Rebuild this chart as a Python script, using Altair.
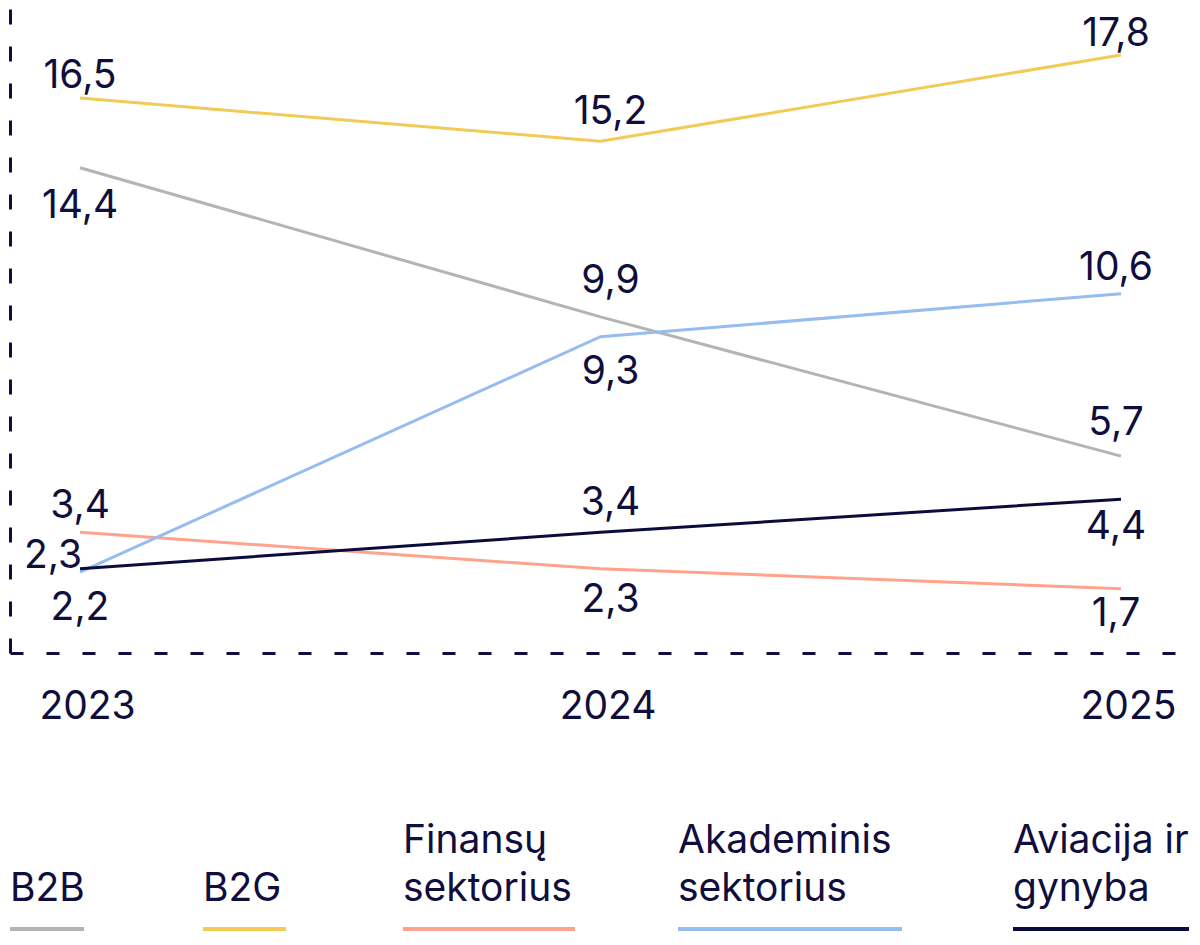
import altair as alt
import pandas as pd

# ---------------- data ----------------
YEARS = ["2023", "2024", "2025"]
SERIES = ["B2B", "B2G", "Finansų sektorius", "Akademinis sektorius", "Aviacija ir gynyba"]
B2B = [14.4, 9.9, 5.7]
B2G = [16.5, 15.2, 17.8]
FINANSU = [3.4, 2.3, 1.7]
AKADEMINIS = [2.2, 9.3, 10.6]
AVIACIJA = [2.3, 3.4, 4.4]
LEGEND_LABELS = ["B2B", "B2G", "Finansų\nsektorius", "Akademinis\nsektorius", "Aviacija ir\ngynyba"]

# ---------------- style / layout ----------------
COLORS = ["#b4b4b4", "#f2cb57", "#ffa28c", "#96bcf0", "#0c0c3c"]
INK = "#0f0e3c"
FONT = "Inter"
FS = 39
W, H = 1181, 645

# label placement per series: (align, dx, dy) for 2023, 2024, 2025
LABEL_LAYOUT = {
    "B2B": [("center", 0, 50), ("center", 10, -24), ("center", -5, -21)],
    "B2G": [("center", 0, -10), ("center", 10, -17), ("center", -5, -9)],
    "Finansų sektorius": [("center", 0, -14), ("center", 10, 43), ("center", -5, 37)],
    "Akademinis sektorius": [("center", 0, 48), ("center", 10, 47), ("center", -5, -14)],
    "Aviacija ir gynyba": [("right", 2, -1), ("center", 10, -17), ("center", -5, 40)],
}
LEGEND_X = [(0, 74), (193, 276), (393, 565), (668, 892), (1003, 1179)]
LEGEND_RULE_Y = 921
LEGEND_LAST_BASELINE = 893
LEGEND_LINE_H = 48

values = {"B2B": B2B, "B2G": B2G, "Finansų sektorius": FINANSU,
          "Akademinis sektorius": AKADEMINIS, "Aviacija ir gynyba": AVIACIJA}
rows = []
for s in SERIES:
    for i, y in enumerate(YEARS):
        rows.append({"series": s, "year": y, "value": values[s][i]})
df = pd.DataFrame(rows)

color_scale = alt.Scale(domain=SERIES, range=COLORS)
x_enc = alt.X("year:O", scale=alt.Scale(type="point", padding=0.1345),
              axis=alt.Axis(title=None, domainDash=[13, 23], domainWidth=3, domainColor=INK,
                            ticks=False, tickSize=0, labelFontSize=FS, labelColor=INK,
                            labelFont=FONT, labelPadding=34, labelOffset=7, labelAngle=0,
                            grid=False))
y_enc = alt.Y("value:Q", scale=alt.Scale(domain=[-0.241, 19.218], nice=False, zero=False),
              axis=alt.Axis(title=None, labels=False, ticks=False, grid=False,
                            domainDash=[15, 22], domainWidth=3, domainColor=INK))

base = alt.Chart(df)
lines = base.mark_line(strokeWidth=3).encode(
    x=x_enc, y=y_enc,
    color=alt.Color("series:N", scale=color_scale, legend=None),
)

layers = [lines]
for s in SERIES:
    for i, yr in enumerate(YEARS):
        align, dx, dy = LABEL_LAYOUT[s][i]
        layers.append(
            base.transform_filter((alt.datum.series == s) & (alt.datum.year == yr))
            .transform_calculate(lbl="replace(format(datum.value, '.1f'), '.', ',')")
            .mark_text(font=FONT, fontSize=FS, color=INK, align=align,
                       baseline="alphabetic", dx=dx, dy=dy)
            .encode(x="year:O", y="value:Q", text="lbl:N")
        )

for name, lab, (x0, x1) in zip(SERIES, LEGEND_LABELS, LEGEND_X):
    ldf = pd.DataFrame({"series": [name], "label": [lab]})
    n_lines = lab.count("\n") + 1
    layers.append(
        alt.Chart(ldf).mark_rule(strokeWidth=4).encode(
            x=alt.value(x0), x2=alt.value(x1), y=alt.value(LEGEND_RULE_Y),
            color=alt.Color("series:N", scale=color_scale, legend=None))
    )
    layers.append(
        alt.Chart(ldf).mark_text(font=FONT, fontSize=FS, color=INK, align="left",
                                 baseline="alphabetic", lineBreak="\n",
                                 lineHeight=LEGEND_LINE_H).encode(
            x=alt.value(x0),
            y=alt.value(LEGEND_LAST_BASELINE - LEGEND_LINE_H * (n_lines - 1)),
            text="label:N")
    )

chart = (alt.layer(*layers)
         .properties(width=W, height=H, padding=0)
         .configure(font=FONT)
         .configure_view(strokeWidth=0))

chart.save("out.html", embed_options={"renderer": "svg", "actions": False})
